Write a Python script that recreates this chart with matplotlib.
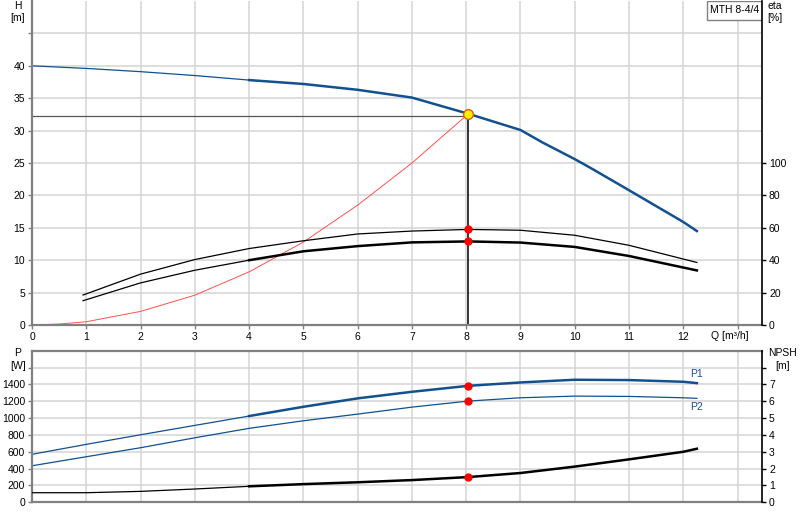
import matplotlib
matplotlib.use("Agg")
import matplotlib.pyplot as plt
from matplotlib.patches import Rectangle

matplotlib.rcParams.update({'font.size': 7.5, 'font.family': 'Liberation Sans'})

# pump curve H(Q)
q_h = [0, 1, 2, 3, 4, 5, 6, 7, 8.04, 8.5, 9, 9.4, 10, 10.3, 11, 12, 12.25]
h = [40, 39.6, 39.1, 38.5, 37.8, 37.2, 36.3, 35.1, 32.6, 31.4, 30.1, 28.2, 25.6, 24.2, 20.8, 15.9, 14.5]

# system curve
sys_q = [0, 0.5, 1, 2, 3, 4, 5, 6, 7, 8.04]
sys_h = [0, 0.15, 0.5, 2.1, 4.6, 8.2, 12.8, 18.5, 25.0, 32.6]

# efficiency [%]
eta_q = [0.94, 2, 3, 4, 5, 6, 7, 8.04, 9, 10, 11, 12.25]
eta_upper = [18.5, 31.4, 40.4, 47.2, 52.0, 56.2, 58.0, 59.0, 58.5, 55.4, 49.2, 38.6]
eta_lower = [15.0, 26.0, 33.8, 40.0, 45.5, 48.7, 51.0, 51.6, 50.9, 48.2, 42.6, 33.7]

# power and NPSH
p_q = [0, 1, 2, 3, 4, 5, 6, 7, 8.04, 9, 10, 11, 12, 12.25]
p1 = [570, 688, 802, 913, 1024, 1134, 1234, 1312, 1383, 1423, 1455, 1451, 1431, 1415]
p2 = [434, 541, 648, 766, 878, 968, 1047, 1130, 1202, 1241, 1261, 1257, 1241, 1234]
npsh = [0.57, 0.57, 0.65, 0.79, 0.95, 1.08, 1.19, 1.32, 1.5, 1.74, 2.12, 2.55, 3.0, 3.18]

duty_q = 8.04
duty_h = 32.6
duty_line_h = 32.3

blue = '#12508f'
gridc = '#d4d4d4'
spinec = '#808080'

fig = plt.figure(figsize=(8, 5.2), dpi=100)
ax1 = fig.add_axes([0.04, 0.375, 0.9125, 0.623])
ax2 = fig.add_axes([0.04, 0.034, 0.9125, 0.2916])
xmax = 13.45

def style(ax):
    ax.set_xlim(0, xmax)
    ax.grid(True, color=gridc, linewidth=1.1)
    ax.set_axisbelow(True)
    for s in ['left', 'bottom', 'top']:
        ax.spines[s].set_color(spinec)
        ax.spines[s].set_linewidth(1.6)
    ax.spines['right'].set_visible(False)
    ax.tick_params(colors=spinec, labelcolor='black', length=3, width=1, pad=2)
    ax.set_xticks(range(0, 14))

# ---- top panel
style(ax1)
ax1.spines['top'].set_visible(False)
ax1.set_ylim(0, 50)
ax1.set_yticks(range(0, 50, 5))
ax1.set_yticklabels([str(v) for v in range(0, 45, 5)] + [''])
ax1.set_xticklabels([str(v) for v in range(0, 13)] + [''])

thin = [i for i, q in enumerate(q_h) if q <= 4]
thick = [i for i, q in enumerate(q_h) if q >= 4]
ax1.plot([q_h[i] for i in thin], [h[i] for i in thin], color=blue, lw=0.9)
ax1.plot([q_h[i] for i in thick], [h[i] for i in thick], color=blue, lw=1.8)
ax1.plot(sys_q, sys_h, color='#ff5050', lw=0.7)
ax1.plot([0, duty_q], [duty_line_h, duty_line_h], color='#555555', lw=0.9)
ax1.plot([duty_q, duty_q], [0, duty_h], color='black', lw=1.1)

ax1r = ax1.twinx()
ax1r.set_ylim(0, 200)
ax1r.set_yticks(range(0, 101, 20))
for s in ['left', 'top', 'bottom']:
    ax1r.spines[s].set_visible(False)
ax1r.spines['right'].set_linewidth(1.2)
ax1r.tick_params(length=3, width=1, pad=2)
ax1r.plot(eta_q, eta_upper, color='black', lw=0.9)
et = [i for i, q in enumerate(eta_q) if q <= 4]
eb = [i for i, q in enumerate(eta_q) if q >= 4]
ax1r.plot([eta_q[i] for i in et], [eta_lower[i] for i in et], color='black', lw=0.9)
ax1r.plot([eta_q[i] for i in eb], [eta_lower[i] for i in eb], color='black', lw=1.8)
ax1r.plot([duty_q, duty_q], [59.0, 51.6], 'o', color='red', ms=5, zorder=5)
ax1r.plot([duty_q], [duty_h * 4], 'o', color='#ffee00', mec='#e06000', ms=7, mew=1, zorder=6)

ax1.add_patch(Rectangle((0.9247, 0.9415), 0.0753, 0.06, transform=ax1.transAxes,
                        facecolor='white', edgecolor='#808080', lw=1, zorder=5))
ax1.text(0.9623, 0.972, 'MTH 8-4/4', transform=ax1.transAxes, ha='center',
         va='center', fontsize=7.5, zorder=6)
ax1.text(12.85, -1.0, 'Q [m³/h]', ha='center', va='top', fontsize=7.5)

# ---- bottom panel
style(ax2)
ax2.set_ylim(0, 1800)
ax2.set_yticks(range(0, 1700, 200))
ax2.set_yticklabels([str(v) for v in range(0, 1500, 200)] + [''])
ax2.tick_params(axis='x', labelbottom=False, length=0)

pt = [i for i, q in enumerate(p_q) if q <= 4]
pb = [i for i, q in enumerate(p_q) if q >= 4]
ax2.plot([p_q[i] for i in pt], [p1[i] for i in pt], color=blue, lw=0.9)
ax2.plot([p_q[i] for i in pb], [p1[i] for i in pb], color=blue, lw=1.8)
ax2.plot(p_q, p2, color=blue, lw=0.9)
ax2.plot([duty_q, duty_q], [1383, 1202], 'o', color='red', ms=5, zorder=5)
ax2.text(12.25, 1460, 'P1', color=blue, ha='center', va='bottom', fontsize=7.5)
ax2.text(12.25, 1190, 'P2', color=blue, ha='center', va='top', fontsize=7.5)

ax2r = ax2.twinx()
ax2r.set_ylim(0, 9)
ax2r.set_yticks(range(0, 9))
ax2r.set_yticklabels([str(v) for v in range(0, 8)] + [''])
for s in ['left', 'top', 'bottom']:
    ax2r.spines[s].set_visible(False)
ax2r.spines['right'].set_linewidth(1.2)
ax2r.tick_params(length=3, width=1, pad=2)
ax2r.plot([p_q[i] for i in pt], [npsh[i] for i in pt], color='black', lw=0.9)
ax2r.plot([p_q[i] for i in pb], [npsh[i] for i in pb], color='black', lw=1.8)
ax2r.plot([duty_q], [1.5], 'o', color='red', ms=5, zorder=5)

# axis titles
fig.text(0.0225, 0.998, 'H\n[m]', ha='center', va='top', fontsize=7.5, linespacing=1.3)
fig.text(0.959, 0.998, 'eta\n[%]', ha='left', va='top', fontsize=7.5, linespacing=1.3)
fig.text(0.0225, 0.33, 'P\n[W]', ha='center', va='top', fontsize=7.5, linespacing=1.3)
fig.text(0.978, 0.33, 'NPSH\n[m]', ha='center', va='top', fontsize=7.5, linespacing=1.3)

fig.savefig('out.png', dpi=100)
